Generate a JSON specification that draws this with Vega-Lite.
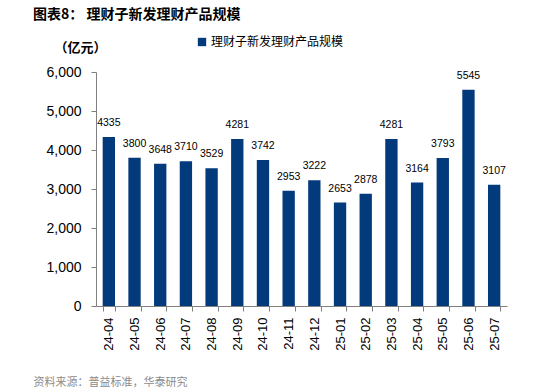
{
  "$schema": "https://vega.github.io/schema/vega-lite/v6.json",
  "autosize": "none",
  "width": 411,
  "height": 234,
  "padding": {"left": 96, "top": 72, "right": 27, "bottom": 86},
  "background": "white",
  "config": {
    "view": {"stroke": null},
    "font": "Liberation Sans"
  },
  "title": {
    "text": "图表8：  理财子新发理财产品规模",
    "anchor": "start",
    "frame": "group",
    "dx": -63,
    "offset": 14,
    "font": "Noto Sans CJK SC",
    "fontSize": 14,
    "fontWeight": "bold",
    "color": "#000000"
  },
  "data": {
    "values": [
      {"month": "24-04", "value": 4335, "series": "理财子新发理财产品规模"},
      {"month": "24-05", "value": 3800, "series": "理财子新发理财产品规模"},
      {"month": "24-06", "value": 3648, "series": "理财子新发理财产品规模"},
      {"month": "24-07", "value": 3710, "series": "理财子新发理财产品规模"},
      {"month": "24-08", "value": 3529, "series": "理财子新发理财产品规模"},
      {"month": "24-09", "value": 4281, "series": "理财子新发理财产品规模"},
      {"month": "24-10", "value": 3742, "series": "理财子新发理财产品规模"},
      {"month": "24-11", "value": 2953, "series": "理财子新发理财产品规模"},
      {"month": "24-12", "value": 3222, "series": "理财子新发理财产品规模"},
      {"month": "25-01", "value": 2653, "series": "理财子新发理财产品规模"},
      {"month": "25-02", "value": 2878, "series": "理财子新发理财产品规模"},
      {"month": "25-03", "value": 4281, "series": "理财子新发理财产品规模"},
      {"month": "25-04", "value": 3164, "series": "理财子新发理财产品规模"},
      {"month": "25-05", "value": 3793, "series": "理财子新发理财产品规模"},
      {"month": "25-06", "value": 5545, "series": "理财子新发理财产品规模"},
      {"month": "25-07", "value": 3107, "series": "理财子新发理财产品规模"}
    ]
  },
  "encoding": {
    "x": {
      "field": "month",
      "type": "nominal",
      "sort": null,
      "scale": {"paddingInner": 0.52, "paddingOuter": 0.26},
      "axis": {
        "title": "资料来源：普益标准，华泰研究",
        "titleAnchor": "start",
        "titleAlign": "left",
        "titleX": -63,
        "titleY": 76,
        "titleBaseline": "middle",
        "titleFont": "Noto Sans CJK SC",
        "titleFontSize": 11,
        "titleFontWeight": "normal",
        "titleColor": "#8c8c8c",
        "labelAngle": -90,
        "labelFontSize": 13,
        "labelColor": "#000000",
        "labelPadding": 6,
        "labelBaseline": "middle",
        "ticks": true,
        "tickBand": "extent",
        "tickSize": 5,
        "tickWidth": 1,
        "tickColor": "#808080",
        "domainColor": "#808080"
      }
    },
    "y": {
      "field": "value",
      "type": "quantitative",
      "scale": {"domain": [0, 6000], "nice": false},
      "axis": {
        "title": "（亿元）",
        "titleAngle": 0,
        "titleX": -16,
        "titleY": -25,
        "titleAlign": "center",
        "titleBaseline": "middle",
        "titleFont": "Noto Sans CJK SC",
        "titleFontSize": 13,
        "titleFontWeight": "bold",
        "titleColor": "#000000",
        "values": [0, 1000, 2000, 3000, 4000, 5000, 6000],
        "tickCount": 10,
        "format": ",.0f",
        "labelFontSize": 14,
        "labelColor": "#000000",
        "labelPadding": 10,
        "labelOverlap": false,
        "labelFlush": false,
        "grid": false,
        "tickSize": 5,
        "tickColor": "#808080",
        "domainColor": "#808080"
      }
    }
  },
  "layer": [
    {
      "mark": {"type": "bar", "color": "#033a7c"},
      "encoding": {
        "fill": {
          "field": "series",
          "type": "nominal",
          "scale": {"range": ["#033a7c"]},
          "legend": {
            "title": null,
            "orient": "none",
            "legendX": 100,
            "legendY": -36,
            "symbolType": "square",
            "symbolSize": 70,
            "symbolStrokeWidth": 0,
            "labelFont": "Noto Sans CJK SC",
            "labelFontSize": 12,
            "labelColor": "#000000",
            "labelOffset": 3
          }
        }
      }
    },
    {
      "mark": {"type": "text", "dy": -9, "fontSize": 10.5, "color": "#000000", "baseline": "bottom"},
      "encoding": {
        "text": {"field": "value", "type": "quantitative", "format": "d"}
      }
    }
  ]
}
